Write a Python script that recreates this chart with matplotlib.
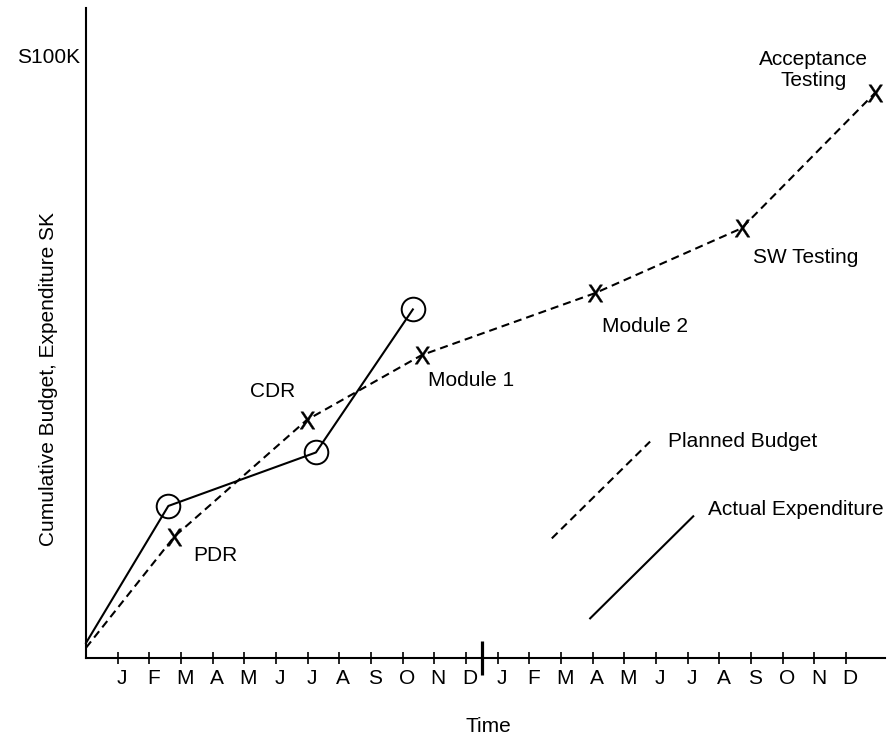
import matplotlib
matplotlib.use("Agg")
import matplotlib.pyplot as plt
import matplotlib.transforms as mtransforms

plt.rcParams['font.family'] = ['Liberation Sans', 'DejaVu Sans']
plt.rcParams['lines.scale_dashes'] = False

# ---- data ----
month_labels = ['J', 'F', 'M', 'A', 'M', 'J', 'J', 'A', 'S', 'O', 'N', 'D'] * 2
month_positions = list(range(1, 25))
year_boundary = 12.5

planned_x = [0, 2.79, 6.97, 10.6, 16.07, 20.7, 24.91]
planned_y = [1.7, 20.2, 39.6, 50.4, 60.7, 71.5, 94.0]
milestones = ['', 'PDR', 'CDR', 'Module 1', 'Module 2', 'SW Testing', 'Acceptance\nTesting']

actual_x = [0, 2.6, 7.26, 10.32]
actual_y = [2.5, 25.3, 34.2, 58.0]

y_top_label = 'S100K'
y_top_value = 100

# ---- figure ----
W, H = 890, 742
fig = plt.figure(figsize=(W / 100, H / 100), dpi=100)
ax_left, ax_right, ax_top, ax_bottom = 86, 885, 8, 658
ax = fig.add_axes([ax_left / W, (H - ax_bottom) / H,
                   (ax_right - ax_left) / W, (ax_bottom - ax_top) / H])
px_per_month = 31.67
px_per_k = 6.01
ax.set_xlim(0, (ax_right - ax_left) / px_per_month)
ax.set_ylim(0, (ax_bottom - ax_top) / px_per_k)

FS = 15
dash = (0, (5.8, 3.6))

# planned budget (dashed) with X milestones
ax.plot(planned_x, planned_y, color='black', lw=1.5, linestyle=dash, clip_on=False, zorder=3)
ax.plot(planned_x[1:], planned_y[1:], linestyle='none', marker=r'$\mathrm{X}$',
        markersize=12.5, color='black', mew=0.3, clip_on=False, zorder=4)

# actual expenditure (solid) with circles
ax.plot(actual_x, actual_y, color='black', lw=1.5, clip_on=False, zorder=3)
ax.plot(actual_x[1:], actual_y[1:], linestyle='none', marker='o', markersize=17,
        mfc='none', mec='black', mew=1.4, zorder=4)

# milestone labels
label_pos = {
    'PDR': (3.38, 17.0, 'left'),
    'CDR': (6.6, 44.3, 'right'),
    'Module 1': (10.8, 46.1, 'left'),
    'Module 2': (16.29, 55.2, 'left'),
    'SW Testing': (21.06, 66.7, 'left'),
    'Acceptance\nTesting': (22.96, 97.8, 'center'),
}
for name in milestones[1:]:
    x, y, ha = label_pos[name]
    ax.text(x, y, name, ha=ha, va='center', fontsize=FS, linespacing=1.1,
            multialignment='center')

# legend drawn as in the figure
ax.plot([0.583, 0.706], [0.184, 0.333], transform=ax.transAxes, color='black',
        lw=1.5, linestyle=dash)
ax.plot([0.631, 0.760], [0.061, 0.218], transform=ax.transAxes, color='black', lw=1.5)
ax.text(0.728, 0.333, 'Planned Budget', transform=ax.transAxes, ha='left', va='center', fontsize=FS)
ax.text(0.778, 0.228, 'Actual Expenditure', transform=ax.transAxes, ha='left', va='center', fontsize=FS)

# axes styling
for s in ['top', 'right']:
    ax.spines[s].set_visible(False)
for s in ['left', 'bottom']:
    ax.spines[s].set_linewidth(1.5)

ax.set_yticks([])
ax.set_xticks(month_positions)
ax.set_xticklabels(month_labels, fontsize=FS)
ax.tick_params(axis='x', direction='inout', length=9, width=1.2, pad=3.5)
offset = mtransforms.ScaledTranslation(4 / 100, 0, fig.dpi_scale_trans)
for lbl in ax.get_xticklabels():
    lbl.set_transform(lbl.get_transform() + offset)
ax.set_xticks([year_boundary], minor=True)
ax.tick_params(axis='x', which='minor', direction='inout', length=24, width=2.3)

ax.text(-6 / px_per_month, y_top_value, y_top_label, ha='right', va='center', fontsize=FS)

fig.text(49 / W, 1 - 379 / H, 'Cumulative Budget, Expenditure SK', rotation=90,
         ha='center', va='center', fontsize=FS)
fig.text(488 / W, 1 - 727 / H, 'Time', ha='center', va='center', fontsize=FS)

fig.savefig('out.png', dpi=100)
